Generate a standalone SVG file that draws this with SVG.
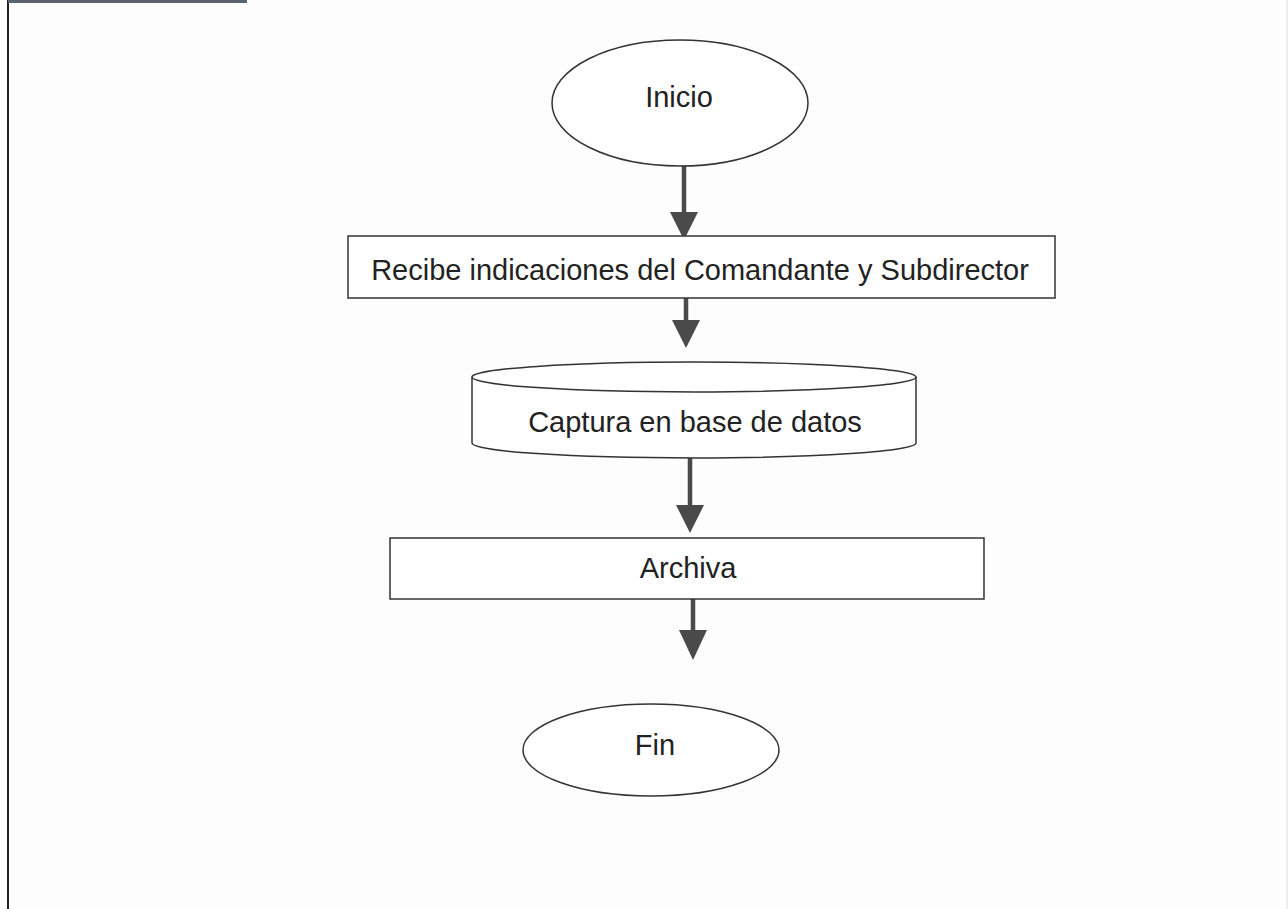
<svg xmlns="http://www.w3.org/2000/svg" width="1288" height="909" viewBox="0 0 1288 909">
<defs>
<style>
.shape{fill:#fff;stroke:#333;stroke-width:1.5}
.lbl{font-family:"Liberation Sans",Arial,sans-serif;font-size:29px;fill:#222;text-anchor:middle}
.conn{stroke:#4a4a4a;stroke-width:4.5;fill:none}
.head{fill:#4a4a4a}
</style>
</defs>
<rect x="0" y="0" width="1288" height="909" fill="#fdfdfd"/>
<line x1="8" y1="0" x2="8" y2="909" stroke="#222" stroke-width="2"/>
<rect x="8" y="0" width="239" height="3" fill="#5a6470"/>
<line x1="1287" y1="0" x2="1287" y2="909" stroke="#ddd" stroke-width="1"/>
<g id="connectors">
<line class="conn" x1="684" y1="166" x2="684" y2="214"/>
<polygon class="head" points="670,212 698,212 684,240"/>
<line class="conn" x1="686" y1="298" x2="686" y2="322"/>
<polygon class="head" points="672,320 700,320 686,348"/>
<line class="conn" x1="690" y1="458" x2="690" y2="507"/>
<polygon class="head" points="676,505 704,505 690,533"/>
<line class="conn" x1="693" y1="599" x2="693" y2="632"/>
<polygon class="head" points="679,630 707,630 693,660"/>
</g>
<g id="inicio">
<ellipse class="shape" cx="680" cy="103" rx="128" ry="63"/>
<text class="lbl" x="679" y="107">Inicio</text>
</g>
<g id="recibe">
<rect class="shape" x="348" y="236" width="707" height="62"/>
<text class="lbl" x="700" y="280">Recibe indicaciones del Comandante y Subdirector</text>
</g>
<g id="captura">
<path class="shape" d="M472,377 L472,443 A222,15 0 0 0 916,443 L916,377"/>
<ellipse class="shape" cx="694" cy="377" rx="222" ry="15"/>
<text class="lbl" x="695" y="432">Captura en base de datos</text>
</g>
<g id="archiva">
<rect class="shape" x="390" y="538" width="594" height="61"/>
<text class="lbl" x="688" y="578">Archiva</text>
</g>
<g id="fin">
<ellipse class="shape" cx="651" cy="750" rx="128" ry="46"/>
<text class="lbl" x="655" y="755">Fin</text>
</g>
</svg>
